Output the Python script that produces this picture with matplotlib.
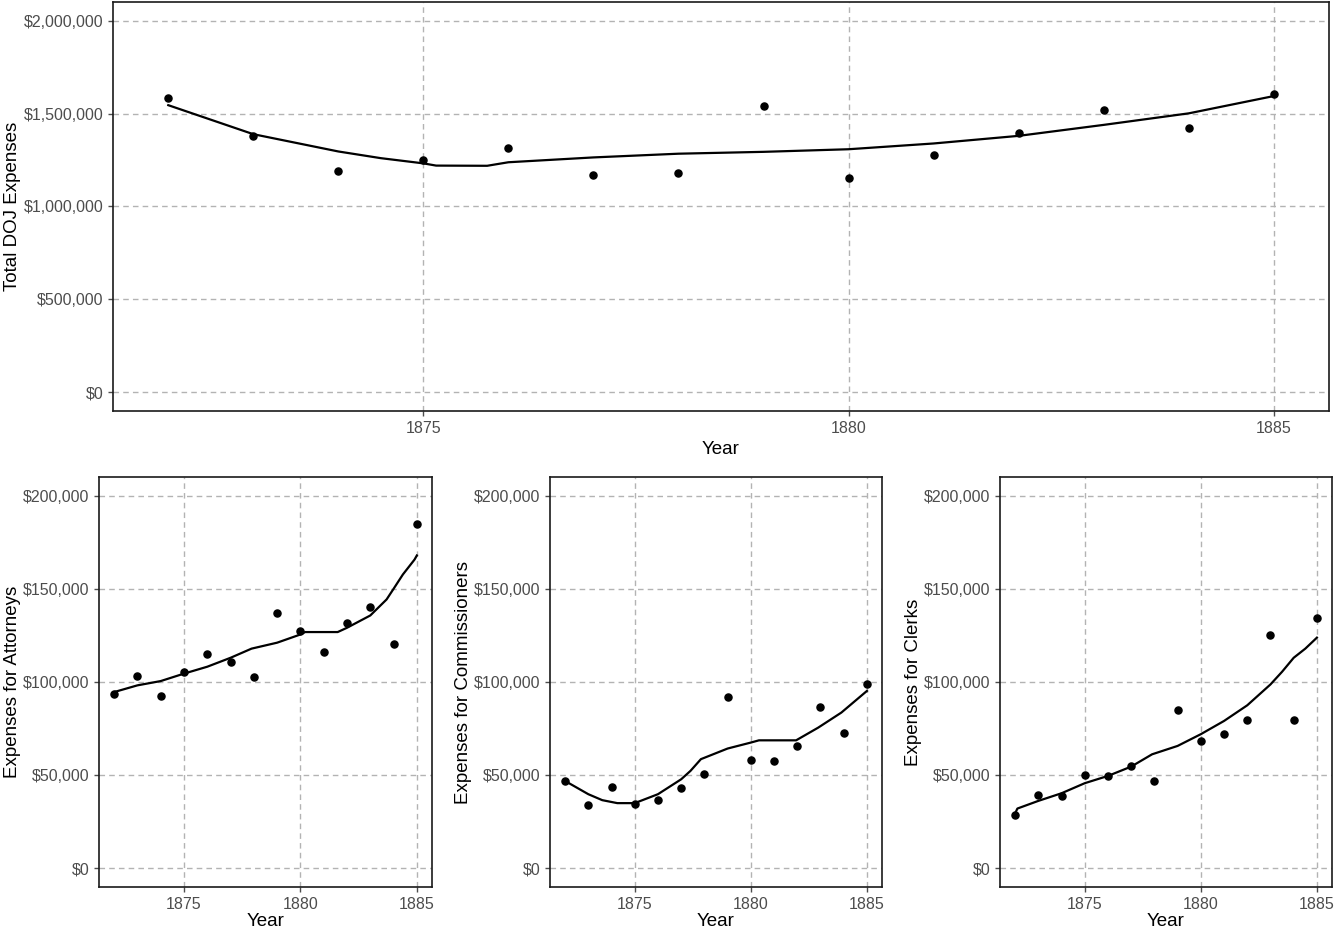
import matplotlib
matplotlib.use("Agg")
import matplotlib.pyplot as plt
from matplotlib.ticker import FuncFormatter

plt.rcParams["font.family"] = ["Liberation Sans", "DejaVu Sans"]

years = [1872, 1873, 1874, 1875, 1876, 1877, 1878, 1879, 1880, 1881, 1882, 1883, 1884, 1885]

total = [1583000, 1381000, 1189000, 1251000, 1314000, 1169000, 1182000,
         1542000, 1155000, 1278000, 1397000, 1520000, 1424000, 1604000]
attorneys = [93400, 103000, 92700, 105400, 114800, 110700, 102500,
             137000, 127500, 116300, 131600, 140500, 120400, 184800]
commissioners = [47100, 33900, 43800, 34800, 36800, 43000, 50700,
                 92000, 58200, 57500, 65900, 86600, 72900, 99100]
clerks = [28600, 39600, 38900, 50000, 49300, 55000, 47100,
          85200, 68600, 72000, 79600, 125400, 79600, 134300]

# smoothed trend lines
total_fit_x = [1872, 1873, 1874, 1874.5, 1875, 1875.15, 1875.75, 1876, 1877, 1878,
               1879, 1880, 1881, 1882, 1883, 1884, 1885]
total_fit = [1545000, 1389000, 1296000, 1260000, 1232000, 1220000, 1219000, 1238000,
             1264000, 1284000, 1294000, 1308000, 1339000, 1380000, 1439000, 1501000, 1594000]

att_fit_x = [1872, 1873, 1874, 1875, 1876, 1877, 1877.9, 1879, 1880, 1880.2, 1881.6,
             1882, 1883, 1883.7, 1884, 1884.4, 1884.9, 1885]
att_fit = [94600, 98200, 100500, 104500, 108200, 113000, 117900, 121100, 125500, 126800,
           126800, 129100, 135700, 144300, 150000, 157700, 165700, 167900]

com_fit_x = [1872, 1873, 1873.6, 1874.25, 1875, 1876, 1877, 1877.4, 1877.85, 1879, 1880,
             1880.35, 1881.95, 1882.9, 1883.9, 1885]
com_fit = [46900, 39800, 36600, 35000, 35000, 39800, 47800, 52300, 58600, 64300, 67500,
           68700, 68700, 75500, 83600, 95200]

clk_fit_x = [1872, 1872.1, 1873, 1874, 1875, 1876, 1877, 1877.9, 1879, 1880, 1881, 1882,
             1883, 1883.5, 1884, 1884.5, 1885]
clk_fit = [29500, 32100, 36200, 40300, 45700, 49600, 54600, 61200, 65700, 72000, 79100,
           87500, 98700, 105500, 113000, 117900, 123800]

W, H = 1337, 933
fig = plt.figure(figsize=(W / 100, H / 100), dpi=100)


def box(l, t, r, b):
    return [l / W, 1 - b / H, (r - l) / W, (b - t) / H]


def dollars(v, _):
    return "${:,.0f}".format(v)


def style(ax, ylabel, ymax, ystep, xpad):
    ax.set_xlim(1871.35, 1885.65)
    ax.set_ylim(-0.05 * ymax, 1.05 * ymax)
    ax.set_xticks([1875, 1880, 1885])
    ax.set_yticks([i * ystep for i in range(int(ymax / ystep) + 1)])
    ax.yaxis.set_major_formatter(FuncFormatter(dollars))
    ax.grid(True, color="#b3b3b3", linestyle=(0, (4, 3)), linewidth=1.0)
    ax.set_axisbelow(True)
    for s in ax.spines.values():
        s.set_linewidth(1.2)
        s.set_color("#1a1a1a")
    ax.tick_params(labelsize=11.5, colors="#4d4d4d", length=3.5, width=1,
                   labelcolor="#4d4d4d")
    ax.set_xlabel("Year", fontsize=13.5, labelpad=xpad)
    ax.set_ylabel(ylabel, fontsize=13.5, labelpad=1.5)


ax0 = fig.add_axes(box(113, 2, 1329, 411))
ax0.scatter(years, total, s=26, color="black", zorder=3)
ax0.plot(total_fit_x, total_fit, color="black", lw=1.6, zorder=3)
style(ax0, "Total DOJ Expenses", 2000000, 500000, 4)

panels = [
    ((99, 477, 432, 887), attorneys, att_fit_x, att_fit, "Expenses for Attorneys"),
    ((550, 477, 882, 887), commissioners, com_fit_x, com_fit, "Expenses for Commissioners"),
    ((1000, 477, 1332, 887), clerks, clk_fit_x, clk_fit, "Expenses for Clerks"),
]
for rect, vals, fx, fy, label in panels:
    ax = fig.add_axes(box(*rect))
    ax.scatter(years, vals, s=26, color="black", zorder=3)
    ax.plot(fx, fy, color="black", lw=1.6, zorder=3)
    style(ax, label, 200000, 50000, 1)

fig.savefig("out.png", dpi=100)
